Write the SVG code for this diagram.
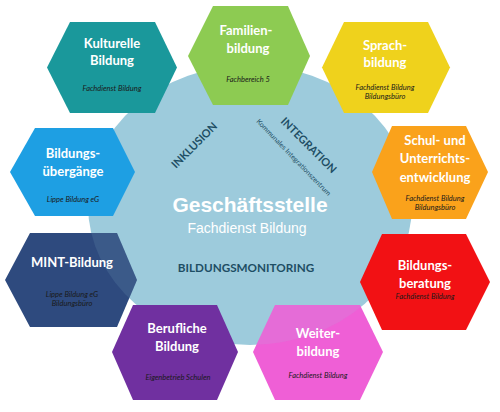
<svg xmlns="http://www.w3.org/2000/svg" width="500" height="412" viewBox="0 0 500 412">
<style>
.t{font-family:Lato,"Open Sans","Liberation Sans",sans-serif;font-weight:bold;font-size:13px;fill:#ffffff;text-anchor:middle}
.s{font-family:Lato,"Open Sans","Liberation Sans",sans-serif;font-style:italic;font-size:7.5px;fill:#1a1a1a;text-anchor:middle}
.ov{fill:#9DCBDC;fill-opacity:0.12}
.c{font-family:Lato,"Open Sans","Liberation Sans",sans-serif;font-weight:bold;fill:#1E4E64;text-anchor:middle}
</style>
<defs>
<clipPath id="ell"><ellipse cx="250" cy="205" rx="162" ry="140"/></clipPath>
</defs>
<rect width="500" height="412" fill="#ffffff"/>
<g id="center">
<ellipse cx="250" cy="205" rx="162" ry="140" fill="#9DCBDC"/>
<text x="250" y="212" font-family="'Liberation Sans',Arial,sans-serif" font-weight="bold" font-size="21" fill="#ffffff" text-anchor="middle">Geschäftsstelle</text>
<text x="247" y="233" font-family="'Liberation Sans',Arial,sans-serif" font-size="14" fill="#ffffff" text-anchor="middle">Fachdienst Bildung</text>
<text class="c" x="246" y="272" font-size="11.7">BILDUNGSMONITORING</text>
<text class="c" x="197" y="148" font-size="11" transform="rotate(-45 197 148)">INKLUSION</text>
<text class="c" x="306" y="148" font-size="11" transform="rotate(45 306 148)">INTEGRATION</text>
<text x="292" y="159" font-family="Lato,'Open Sans',sans-serif" font-size="7" fill="#1E4E64" text-anchor="middle" transform="rotate(46 292 159)">Kommunales Integrationszentrum</text>
</g>
<g id="kulturelle">
<polygon points="47,67.5 70,22 155,22 177,67.5 155,113 70,113" fill="#1A989B"/>
<text class="t" x="112" y="48">Kulturelle</text>
<text class="t" x="112" y="65">Bildung</text>
<text class="s" x="112" y="91">Fachdienst Bildung</text>
</g>
<g id="familien">
<polygon points="188,56 213,6 288,6 310,56 288,105 213,105" fill="#8DCB52"/>
<text class="t" x="246" y="35">Familien-</text>
<text class="t" x="248" y="53">bildung</text>
<text class="s" x="248" y="82">Fachbereich  5</text>
</g>
<g id="sprach">
<polygon points="322,67.5 344,22 428,22 450,67.5 428,113 344,113" fill="#EFD21C"/>
<text class="t" x="385" y="50" fill="#FFFBE6">Sprach-</text>
<text class="t" x="385" y="67" fill="#FFFBE6">bildung</text>
<text class="s" x="385" y="90">Fachdienst Bildung</text>
<text class="s" x="385" y="99">Bildungsbüro</text>
</g>
<g id="uebergaenge">
<polygon points="10,172 35,128 113,128 135,172 113,216 35,216" fill="#1E9FE3"/>
<text class="t" x="73" y="158">Bildungs-</text>
<text class="t" x="73" y="176">übergänge</text>
<text class="s" x="73" y="202" fill="#ffffff">Lippe Bildung eG</text>
</g>
<g id="schul">
<polygon points="372,172 392,126 466,126 488,172 466,219 392,219" fill="#FAA21B"/>
<text class="t" x="435" y="145">Schul- und</text>
<text class="t" x="435" y="163">Unterrichts-</text>
<text class="t" x="435" y="182">entwicklung</text>
<text class="s" x="435" y="201">Fachdienst Bildung</text>
<text class="s" x="435" y="210">Bildungsbüro</text>
</g>
<g id="mint">
<polygon points="5,280 30,233 117,233 137,280 117,327 30,327" fill="#2E4A7E"/>
<polygon class="ov" points="5,280 30,233 117,233 137,280 117,327 30,327" clip-path="url(#ell)"/>
<text class="t" x="72" y="267">MINT-Bildung</text>
<text class="s" x="72" y="297" fill="#141c30">Lippe Bildung eG</text>
<text class="s" x="72" y="306" fill="#141c30">Bildungsbüro</text>
</g>
<g id="berufliche">
<polygon points="112,352 133,305 217,305 238,352 217,400 133,400" fill="#7030A0"/>
<text class="t" x="177" y="333">Berufliche</text>
<text class="t" x="177" y="351">Bildung</text>
<text class="s" x="178" y="380" fill="#150820">Eigenbetrieb Schulen</text>
</g>
<g id="weiter">
<polygon points="253,352 275,305 360,305 383,352 360,400 275,400" fill="#EF5FD6"/>
<polygon class="ov" points="253,352 275,305 360,305 383,352 360,400 275,400" clip-path="url(#ell)"/>
<text class="t" x="318" y="338">Weiter-</text>
<text class="t" x="318" y="356">bildung</text>
<text class="s" x="318" y="378" fill="#3a0a36">Fachdienst Bildung</text>
</g>
<g id="beratung">
<polygon points="360,282 382,234 466,234 490,282 466,330 382,330" fill="#F21114"/>
<text class="t" x="425" y="270">Bildungs-</text>
<text class="t" x="425" y="288">beratung</text>
<text class="s" x="425" y="299" font-size="6.5" fill="#8A0000">Fachdienst Bildung</text>
</g>
<g id="connectors"/>
</svg>
